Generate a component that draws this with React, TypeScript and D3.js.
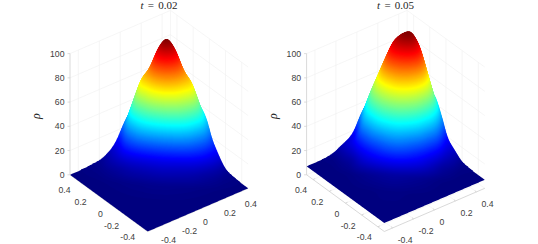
import React, { useMemo } from 'react';
import * as d3 from 'd3';

// rho, on a table turned 45 degrees to the axes:
// p = x - y (across the view), q = x + y (front corner to back corner), in fractions of the axis length
const pNodesEarly = [-1, -0.68, -0.48, -0.33, -0.26, -0.18, -0.08, 0.02, 0.12, 0.22, 0.3, 0.37, 0.52, 0.72, 1];
const pNodesLate = [-1, -0.7, -0.5, -0.35, -0.28, -0.2, -0.1, 0, 0.1, 0.2, 0.28, 0.35, 0.5, 0.7, 1];
const qNodes = [-1, -0.4, -0.1, 0.1, 0.2, 0.3, 0.4, 0.5, 0.6, 0.8, 1];

const rhoEarly = [
  [0, 0, 0, 0, 0, 0, 0, 0, 0, 0, 0, 0, 0, 0, 0],
  [0, 0, 0, 0.1, 0.2, 0.2, 0.2, 0.2, 0.2, 0.2, 0.2, 0.1, 0, 0, 0],
  [0, 0.2, 0.6, 1, 1.1, 1.2, 1.5, 1.5, 1.5, 1.2, 1.1, 1, 0.6, 0.2, 0],
  [0, 1, 3, 5, 5.5, 6, 6.5, 7, 6.5, 6, 5.5, 5, 3, 1, 0],
  [0, 1.5, 6, 9.5, 10.3, 11, 12, 12.5, 12, 11, 10.3, 9.5, 6, 1.5, 0],
  [0, 2, 9, 25, 37, 50, 60, 65, 60, 50, 37, 25, 12, 2, 0],
  [0, 2, 12, 47, 63, 68, 83, 90, 83, 68, 63, 47, 18, 4, 0],
  [0, 1, 20, 52, 67, 72, 92, 103, 92, 72, 67, 52, 21, 1, 0],
  [0, 0, 12, 40, 52, 62, 80, 88, 80, 62, 52, 40, 12, 0, 0],
  [0, 0, 2, 10, 16, 22, 28, 30, 28, 22, 16, 10, 2, 0, 0],
  [0, 0, 0, 0, 0.5, 1, 3, 5, 3, 1, 0.5, 0, 0, 0, 0],
];

const rhoLate = [
  [7, 7, 7, 7, 7, 7, 7, 7, 7, 7, 7, 7, 7, 7, 7],
  [7, 7, 7, 7.2, 7.2, 7.3, 7.5, 7.5, 7.5, 7.3, 7.2, 7.2, 7, 7, 7],
  [7, 7, 7.5, 8.5, 9, 9.5, 10, 10.5, 10, 9.5, 9, 8.5, 7.5, 7, 7],
  [7, 7.5, 10, 19, 23, 28, 35, 38, 34, 27, 22, 17, 10, 7.5, 7],
  [7, 8, 14, 28, 37, 47, 54, 57, 54, 47, 36, 26, 13, 8, 7],
  [7, 10, 18, 41, 51, 61, 71, 78, 76, 66, 53, 42, 16, 8.5, 7],
  [7, 10, 18, 50, 61, 74, 89, 94, 95, 87, 68, 53, 18, 11, 7],
  [7, 8, 23, 53, 65, 79, 95, 101, 103, 93, 74, 57, 21, 9, 7],
  [7, 7, 15, 45, 57, 72, 92, 99, 103, 90, 68, 50, 14, 7, 7],
  [7, 7, 7, 15, 21, 28, 36, 40, 36, 28, 21, 15, 7, 7, 7],
  [7, 7, 7, 7, 7, 7, 8, 8, 8, 7, 7, 7, 7, 7, 7],
];

const xLim = [-0.48, 0.48];
const zLim = [0, 100];
const xyTicks = [-0.4, -0.2, 0, 0.2, 0.4];
const zTicks = [0, 20, 40, 60, 80, 100];

const jet = d3
  .scaleLinear<string>()
  .domain([0, 0.125, 0.375, 0.625, 0.875, 1])
  .range(['#00007f', '#0000ff', '#00ffff', '#ffff00', '#ff0000', '#7f0000'])
  .interpolate(d3.interpolateRgb);

const GRID = 160;
const frac = d3.scaleLinear().domain(xLim).range([0, 1]);
const zPx = d3.scaleLinear().domain(zLim).range([0, 121.2]);

function sampleGrid(rows: number[][], pNodes: number[]) {
  const pIdx = d3.scaleLinear().domain(pNodes).range(d3.range(pNodes.length)).clamp(true);
  const qIdx = d3.scaleLinear().domain(qNodes).range(d3.range(qNodes.length)).clamp(true);
  const values = new Float64Array(GRID * GRID);
  for (let j = 0; j < GRID; j++) {
    for (let i = 0; i < GRID; i++) {
      const u = (i + 0.5) / GRID - 0.5;
      const v = (j + 0.5) / GRID - 0.5;
      const a = pIdx(u - v);
      const b = qIdx(u + v);
      const a0 = Math.min(Math.floor(a), pNodes.length - 2);
      const b0 = Math.min(Math.floor(b), qNodes.length - 2);
      const top = d3.interpolateNumber(rows[b0][a0], rows[b0][a0 + 1])(a - a0);
      const bot = d3.interpolateNumber(rows[b0 + 1][a0], rows[b0 + 1][a0 + 1])(a - a0);
      values[j * GRID + i] = d3.interpolateNumber(top, bot)(b - b0);
    }
  }
  d3.blur2({ data: values, width: GRID, height: GRID }, 3);
  return values;
}

function Panel({ rows, pNodes, dx, label }: { rows: number[][]; pNodes: number[]; dx: number; label: string }) {
  const front = [147.7 + dx, 231.5];
  const right = [248.2 + dx, 188.3];
  const left = [70 + dx, 174.8];

  // orthographic view: x runs front -> right corner, y runs front -> left corner
  const project = (x: number, y: number, z: number): [number, number] => {
    const fx = frac(x);
    const fy = frac(y);
    return [
      front[0] + fx * (right[0] - front[0]) + fy * (left[0] - front[0]),
      front[1] + fx * (right[1] - front[1]) + fy * (left[1] - front[1]) - zPx(z),
    ];
  };
  const seg = (a: [number, number, number], b: [number, number, number]) => {
    const p = project(a[0], a[1], a[2]);
    const q = project(b[0], b[1], b[2]);
    return `M${p[0]},${p[1]}L${q[0]},${q[1]}`;
  };

  const [xMin, xMax] = xLim;
  const [zMin, zMax] = zLim;

  const layers = useMemo(() => {
    const values = sampleGrid(rows, pNodes);
    const [lo, hi] = d3.extent(values) as [number, number];
    const levels = d3.range(0, 260).map(k => lo + ((hi - lo) * k) / 260);
    const contours = d3.contours().size([GRID, GRID]).thresholds(levels).smooth(true)(values as any);
    const color = d3.scaleLinear().domain([lo, hi]).range([0, 1]);
    return contours.map(c => {
      const path = d3.geoPath(
        d3.geoTransform({
          point(cx: number, cy: number) {
            const x = frac.invert(cx / GRID);
            const y = frac.invert(cy / GRID);
            const pt = project(x, y, c.value);
            (this as any).stream.point(pt[0], pt[1]);
          },
        })
      );
      return { d: path(c as any) || '', fill: jet(color(c.value)) };
    });
  }, [rows, dx]);

  const gridPath = [
    ...xyTicks.map(t => seg([t, xMax, zMin], [t, xMax, zMax])),
    ...xyTicks.map(t => seg([xMax, t, zMin], [xMax, t, zMax])),
    ...zTicks.map(z => seg([xMin, xMax, z], [xMax, xMax, z])),
    ...zTicks.map(z => seg([xMax, xMin, z], [xMax, xMax, z])),
    seg([xMax, xMax, zMin], [xMax, xMax, zMax]),
    ...xyTicks.map(t => seg([t, xMin, zMin], [t, xMax, zMin])),
    ...xyTicks.map(t => seg([xMin, t, zMin], [xMax, t, zMin])),
  ].join('');

  const axisPath = [
    seg([xMin, xMax, zMin], [xMin, xMax, zMax]),
    seg([xMin, xMin, zMin], [xMin, xMax, zMin]),
    seg([xMin, xMin, zMin], [xMax, xMin, zMin]),
    ...xyTicks.map(t => seg([xMin, t, zMin], [xMin + 0.02, t, zMin])),
    ...xyTicks.map(t => seg([t, xMin, zMin], [t, xMin + 0.02, zMin])),
  ].join('');

  const zAxisX = project(xMin, xMax, 0)[0];
  const fmt = (t: number) => (t === 0 ? '0' : String(t));
  const labelFont = { fontFamily: '"Liberation Sans", Arial, sans-serif', fontSize: 8.7, fill: '#404040' };

  return (
    <g>
      <path d={gridPath} fill="none" stroke="#f0f0f0" strokeWidth={0.6} />
      <path d={axisPath} fill="none" stroke="#cfcfcf" strokeWidth={0.8} />
      {zTicks.map(z => (
        <path
          key={z}
          d={`M${zAxisX},${project(xMin, xMax, z)[1]}h-2.5`}
          stroke="#cfcfcf"
          strokeWidth={0.7}
        />
      ))}
      {layers.map((l, i) => (
        <path key={i} d={l.d} fill={l.fill} />
      ))}
      {zTicks.map(z => (
        <text key={z} x={zAxisX - 5.5} y={project(xMin, xMax, z)[1] + 3} textAnchor="end" {...labelFont}>
          {z}
        </text>
      ))}
      {xyTicks.map(t => {
        const b = project(xMin, t, 0);
        return (
          <text key={t} x={b[0] - 6} y={b[1] + 13.7} textAnchor="end" {...labelFont}>
            {fmt(t)}
          </text>
        );
      })}
      {xyTicks.map(t => {
        const b = project(t, xMin, 0);
        return (
          <text key={t} x={b[0] + 5} y={b[1] + 14.6} textAnchor="start" {...labelFont}>
            {fmt(t)}
          </text>
        );
      })}
      <text
        transform={`translate(${zAxisX - 30},116) rotate(-90)`}
        textAnchor="middle"
        fontFamily='"Liberation Serif", serif'
        fontStyle="italic"
        fontSize={12}
        fill="#262626"
      >
        ρ
      </text>
      <text
        x={159 + dx}
        y={8.6}
        textAnchor="middle"
        fontFamily='"Liberation Serif", serif'
        fontSize={11}
        wordSpacing={1.5}
        fill="#262626"
      >
        <tspan fontStyle="italic">t</tspan> = {label}
      </text>
    </g>
  );
}

export default function App() {
  return (
    <svg width={538} height={244} style={{ position: 'absolute', left: 0, top: 0, background: '#fff' }}>
      <Panel rows={rhoEarly} pNodes={pNodesEarly} dx={0} label="0.02" />
      <Panel rows={rhoLate} pNodes={pNodesLate} dx={236.6} label="0.05" />
    </svg>
  );
}
